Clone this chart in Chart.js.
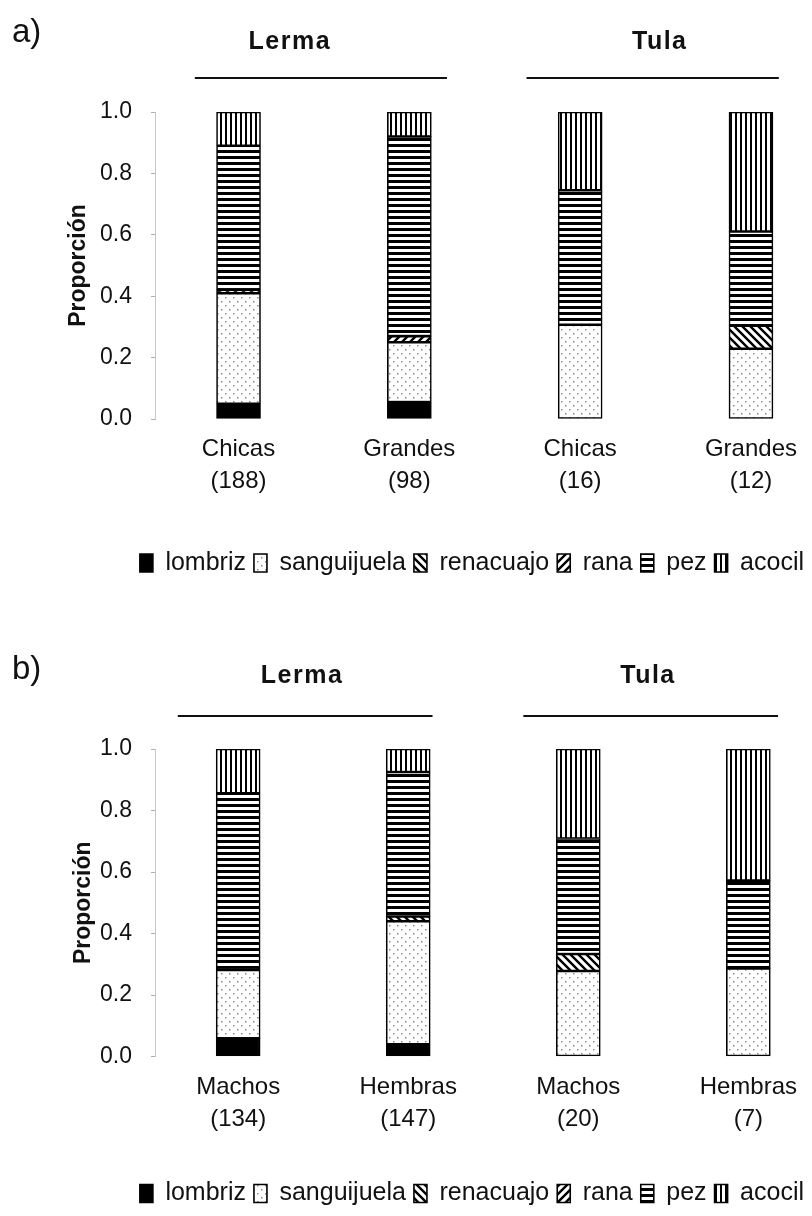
<!DOCTYPE html>
<html>
<head>
<meta charset="utf-8">
<script src="https://cdn.jsdelivr.net/npm/chart.js@4/dist/chart.umd.min.js"></script>
<style>
  html, body { margin: 0; padding: 0; background: #fff; overflow: hidden; }
  .panel { position: relative; width: 812px; }
  #panelA { height: 600px; }
  #panelB { height: 616px; }
</style>
</head>
<body>
<div class="panel" id="panelA"><canvas id="chartA"></canvas></div>
<div class="panel" id="panelB"><canvas id="chartB"></canvas></div>
<script>
// presas, de abajo hacia arriba en cada barra
const presas = ['lombriz', 'sanguijuela', 'renacuajo', 'rana', 'pez', 'acocil'];

// a) por talla
const etiquetasA = [['Chicas', '(188)'], ['Grandes', '(98)'], ['Chicas', '(16)'], ['Grandes', '(12)']];
const lombrizA     = [0.05, 0.055, 0, 0];
const sanguijuelaA = [0.36, 0.195, 0.307, 0.229];
const renacuajoA   = [0.01, 0, 0, 0.075];
const ranaA        = [0, 0.02, 0, 0];
const pezA         = [0.47, 0.65, 0.438, 0.307];
const acocilA      = [0.11, 0.08, 0.255, 0.389];

// b) por sexo
const etiquetasB = [['Machos', '(134)'], ['Hembras', '(147)'], ['Machos', '(20)'], ['Hembras', '(7)']];
const lombrizB     = [0.059, 0.04, 0, 0];
const sanguijuelaB = [0.222, 0.40, 0.278, 0.286];
const renacuajoB   = [0, 0.015, 0.055, 0];
const ranaB        = [0, 0, 0, 0];
const pezB         = [0.575, 0.47, 0.376, 0.286];
const acocilB      = [0.144, 0.075, 0.291, 0.428];

const sitios = ['Lerma', 'Tula'];

const fuente = '"Liberation Sans", Arial, sans-serif';
Chart.defaults.font.family = fuente;
Chart.defaults.color = '#111';

// tramas en blanco y negro
function trama(tipo) {
  const s = tipo === 'puntos' ? 8 : tipo === 'horiz' ? 6 : tipo === 'vert' ? 5 : 8;
  const c = document.createElement('canvas');
  c.width = s; c.height = s;
  const g = c.getContext('2d');
  g.fillStyle = '#fff';
  g.fillRect(0, 0, s, s);
  g.fillStyle = '#000';
  g.strokeStyle = '#000';
  if (tipo === 'puntos') {
    g.fillStyle = '#8a8a8a';
    g.fillRect(1, 1, 1.5, 1.5);
    g.fillRect(5, 5, 1.5, 1.5);
  } else if (tipo === 'horiz') {
    g.fillRect(0, 0, s, 3);
  } else if (tipo === 'vert') {
    g.fillRect(0, 0, 2, s);
  } else {
    g.lineWidth = 2.4;
    g.beginPath();
    if (tipo === 'inv') {
      g.moveTo(-2, -2); g.lineTo(s + 2, s + 2);
      g.moveTo(-2, s - 2); g.lineTo(2, s + 2);
      g.moveTo(s - 2, -2); g.lineTo(s + 2, 2);
    } else {
      g.moveTo(-2, s + 2); g.lineTo(s + 2, -2);
      g.moveTo(-2, 2); g.lineTo(2, -2);
      g.moveTo(s - 2, s + 2); g.lineTo(s + 2, s - 2);
    }
    g.stroke();
  }
  return g.createPattern(c, 'repeat');
}

const rellenos = ['#000', trama('puntos'), trama('inv'), trama('diag'), trama('horiz'), trama('vert')];

// letra del panel, nombres de sitio y sus lineas
function encabezados(disp) {
  return {
    id: 'encabezados',
    afterDraw(chart) {
      const { ctx } = chart;
      const x = chart.scales.x;
      ctx.save();
      ctx.fillStyle = '#111';
      ctx.font = '33px ' + fuente;
      ctx.textAlign = 'left';
      ctx.textBaseline = 'alphabetic';
      ctx.fillText(disp.letra, 12, disp.letraY);
      ctx.font = 'bold 25px ' + fuente;
      ctx.textAlign = 'center';
      ctx.textBaseline = 'middle';
      ctx.letterSpacing = '1.5px';
      ctx.strokeStyle = '#111';
      ctx.lineWidth = 2;
      disp.grupos.forEach((gr, k) => {
        ctx.fillText(sitios[k], x.getPixelForValue(gr.centro), disp.textoY);
        ctx.beginPath();
        ctx.moveTo(x.getPixelForValue(gr.desde), disp.lineaY);
        ctx.lineTo(x.getPixelForValue(gr.hasta), disp.lineaY);
        ctx.stroke();
      });
      ctx.restore();
    }
  };
}

function crearPanel(id, etiquetas, series, disp) {
  const datasets = presas.map((p, k) => ({
    label: p,
    data: series[k].map((v, i) => ({ x: i + 1, y: v > 0 ? v : null })),
    backgroundColor: rellenos[k],
    borderColor: '#000',
    borderWidth: 1.6,
    borderSkipped: false,
    barThickness: 44
  }));

  new Chart(document.getElementById(id), {
    type: 'bar',
    data: { datasets },
    options: {
      responsive: true,
      maintainAspectRatio: false,
      animation: false,
      layout: { padding: { left: 40, right: 0, top: disp.arriba, bottom: disp.abajo } },
      scales: {
        x: {
          type: 'linear',
          stacked: true,
          offset: false,
          min: 0.511,
          max: 4.338,
          afterBuildTicks: s => { s.ticks = etiquetas.map((_, i) => ({ value: i + 1 })); },
          afterFit: s => { s.height = disp.altoX; },
          grid: { display: false, drawTicks: false },
          border: { display: false },
          ticks: {
            autoSkip: false,
            maxRotation: 0,
            padding: 15,
            color: '#111',
            font: { size: 24, lineHeight: 1.32 },
            callback: v => etiquetas[v - 1]
          }
        },
        y: {
          stacked: true,
          min: 0,
          max: 1,
          afterFit: s => { s.width = 115; },
          border: { color: '#c8c8c8', width: 1 },
          grid: { drawOnChartArea: false, tickLength: 4, color: '#b0b0b0' },
          ticks: {
            stepSize: 0.2,
            padding: 19,
            color: '#111',
            font: { size: 23 },
            callback: v => v.toFixed(1)
          },
          title: {
            display: true,
            text: 'Proporción',
            color: '#111',
            font: { size: 23, weight: 'bold' },
            padding: { top: disp.tituloY, bottom: 0 }
          }
        }
      },
      plugins: {
        legend: {
          position: 'bottom',
          align: 'end',
          labels: { color: '#111', font: { size: 25 }, boxWidth: 13, boxHeight: 18, padding: 8 }
        },
        tooltip: { enabled: false }
      }
    },
    plugins: [encabezados(disp)]
  });
}

crearPanel('chartA', etiquetasA,
  [lombrizA, sanguijuelaA, renacuajoA, ranaA, pezA, acocilA],
  {
    letra: 'a)', letraY: 42, textoY: 42, lineaY: 78,
    arriba: 112, abajo: 14.5, altoX: 123.5, tituloY: 25,
    grupos: [{ centro: 1.30, desde: 0.744, hasta: 2.22 }, { centro: 3.466, desde: 2.686, hasta: 4.163 }]
  });

crearPanel('chartB', etiquetasB,
  [lombrizB, sanguijuelaB, renacuajoB, ranaB, pezB, acocilB],
  {
    letra: 'b)', letraY: 79, textoY: 76, lineaY: 116,
    arriba: 149, abajo: 0, altoX: 116.5, tituloY: 30,
    grupos: [{ centro: 1.376, desde: 0.645, hasta: 2.143 }, { centro: 3.41, desde: 2.677, hasta: 4.175 }]
  });
</script>
</body>
</html>
